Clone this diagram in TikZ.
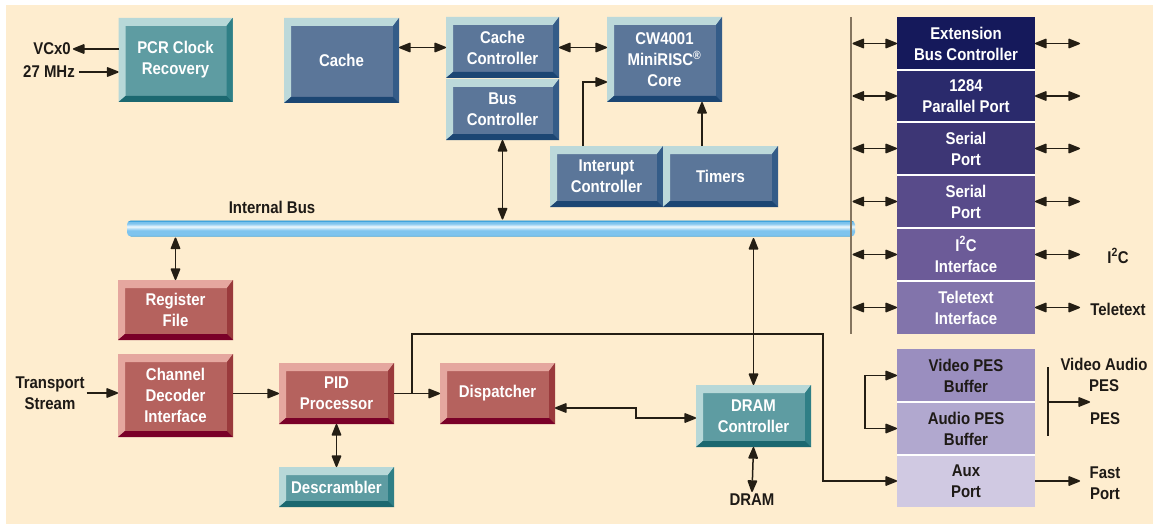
\documentclass[tikz,border=0pt]{standalone}
\usepackage{fontspec}
\newfontfamily\condfont{Liberation Sans}[FakeStretch=0.88]
\usetikzlibrary{arrows.meta,calc}

\definecolor{paper}{HTML}{FEEDCF}
\definecolor{lineC}{HTML}{241E14}
\definecolor{vbusC}{HTML}{85755F}
\definecolor{labelC}{HTML}{1E1A16}
% teal blocks
\definecolor{tealF}{HTML}{5E9CA2}
\definecolor{tealL}{HTML}{B7D8D8}
\definecolor{tealR}{HTML}{2F7F86}
\definecolor{tealB}{HTML}{1B6870}
% blue blocks
\definecolor{blueF}{HTML}{5B7699}
\definecolor{blueL}{HTML}{BCD9DA}
\definecolor{blueR}{HTML}{345C88}
\definecolor{blueB}{HTML}{1C4673}
% red blocks
\definecolor{redF}{HTML}{B5625E}
\definecolor{redL}{HTML}{E5A79F}
\definecolor{redR}{HTML}{9A3A3C}
\definecolor{redB}{HTML}{7A0028}
% port column
\definecolor{pExt}{HTML}{15195B}
\definecolor{pPar}{HTML}{2A2A6C}
\definecolor{pSerA}{HTML}{3D3675}
\definecolor{pSerB}{HTML}{584B8A}
\definecolor{pIIC}{HTML}{6C5B98}
\definecolor{pTele}{HTML}{8274AB}
\definecolor{pVid}{HTML}{9A8EBF}
\definecolor{pAud}{HTML}{B1A8CF}
\definecolor{pAux}{HTML}{D0C9E2}
% bus pipe
\definecolor{pipeEdge}{HTML}{2496D6}
\definecolor{pipeLo}{HTML}{7FC4EE}
\definecolor{pipeHi}{HTML}{EEF8FD}

% tube shading: blue rims, light body, bright highlight stripe
\pgfdeclareverticalshading{tubeshade}{100bp}{%
  color(0bp)=(pipeEdge); color(25bp)=(pipeEdge); color(30bp)=(pipeLo);
  color(44bp)=(pipeLo); color(56bp)=(pipeHi); color(66bp)=(pipeLo);
  color(70bp)=(pipeLo); color(75bp)=(pipeEdge); color(100bp)=(pipeEdge)}

\newcommand\boxtxt{\condfont\bfseries\fontsize{17}{21}\selectfont}

% raised-block bevel: light top/left, dark right, darkest bottom
\newcommand\bevelfill[3]{%
  \path (path picture bounding box.south west) coordinate (bvsw)
        (path picture bounding box.north west) coordinate (bvnw)
        (path picture bounding box.north east) coordinate (bvne)
        (path picture bounding box.south east) coordinate (bvse);
  \fill[#1] (bvsw) -- (bvnw) -- (bvne) -- ([xshift=-6pt,yshift=-8pt]bvne)
     -- ([xshift=7pt,yshift=-8pt]bvnw) -- ([xshift=7pt,yshift=6pt]bvsw) -- cycle;
  \fill[#2] (bvne) -- (bvse) -- ([xshift=-6pt,yshift=6pt]bvse)
     -- ([xshift=-6pt,yshift=-8pt]bvne) -- cycle;
  \fill[#3] (bvsw) -- (bvse) -- ([xshift=-6pt,yshift=6pt]bvse)
     -- ([xshift=7pt,yshift=6pt]bvsw) -- cycle;
}

\tikzset{
  bevel/.style n args={4}{fill=#1, path picture={\bevelfill{#2}{#3}{#4}},
    text=white, font=\boxtxt, align=center, inner sep=0pt, outer sep=0pt},
  tealbox/.style={bevel={tealF}{tealL}{tealR}{tealB}},
  bluebox/.style={bevel={blueF}{blueL}{blueR}{blueB}},
  redbox/.style={bevel={redF}{redL}{redR}{redB}},
  wh/.style 2 args={minimum width=#1, minimum height=#2},
  portbox/.style={fill=#1, text=white, font=\boxtxt, align=center,
    inner sep=0pt, outer sep=0pt, minimum width=138pt},
  bufbox/.style={portbox=#1, text=labelC},
  sepline/.style={draw=white, line width=1.6pt},
  lbl/.style={text=labelC, font=\boxtxt, align=center, inner sep=2pt},
  conn/.style={draw=lineC, line width=1.5pt},
  headtip/.tip={Triangle[length=13pt,width=10pt,round]},
  arr/.style={conn, -headtip},
  darr/.style={conn, headtip-headtip},
  vline/.style={draw=vbusC, line width=2pt},
  pipe/.style={rounded corners=4pt, shading=tubeshade,
    inner sep=0pt, outer sep=0pt},
}

\begin{document}
\begin{tikzpicture}[x=1pt, y=-1pt]
\useasboundingbox (0,0) rectangle (1153,524);
\fill[white] (0,0) rectangle (1153,524);
\fill[paper] (6,5) rectangle (1153,524);

% ---- processor blocks ----
\node[tealbox, wh={114pt}{84pt}] (pcr)   at (175.5,60)   {PCR Clock\\Recovery};
\node[bluebox, wh={115pt}{85pt}] (cache) at (341.5,60.5) {Cache};
\node[bluebox, wh={113pt}{61pt}] (cctl)  at (502.5,47.5) {Cache\\Controller};
\node[bluebox, wh={113pt}{61pt}] (busc)  at (502.5,109.5) {Bus\\Controller};
\node[bluebox, wh={115pt}{85pt}] (core)  at (664.5,59.5) {CW4001\\MiniRISC\textsuperscript{®}\\Core};
\node[bluebox, wh={113pt}{61pt}] (intc)  at (606.5,176.5) {Interupt\\Controller};
\node[bluebox, wh={115pt}{61pt}] (tim)   at (720.5,176.5) {Timers};

% ---- internal bus ----
\node[pipe, wh={728pt}{16pt}] (bus) at (491,228.5) {};
\node[lbl] (busl) at (272,207) {Internal Bus};

% ---- transport blocks ----
\node[redbox,  wh={115pt}{60pt}] (reg)   at (175.5,310)   {Register\\File};
\node[redbox,  wh={115pt}{83pt}] (cdi)   at (175.5,395.5) {Channel\\Decoder\\Interface};
\node[redbox,  wh={115pt}{61pt}] (pid)   at (336.5,393.5) {PID\\Processor};
\node[tealbox, wh={115pt}{40pt}] (desc)  at (336.5,487)   {Descrambler};
\node[redbox,  wh={115pt}{61pt}] (disp)  at (497.5,393.5) {Dispatcher};
\node[tealbox, wh={115pt}{62pt}] (dramc) at (753.5,416)   {DRAM\\Controller};

% ---- peripheral column ----
\node[portbox=pExt,  minimum height=53pt] (ext)  at (966,43.5)  {Extension\\Bus Controller};
\node[portbox=pPar,  minimum height=52pt] (par)  at (966,96)    {1284\\Parallel Port};
\node[portbox=pSerA, minimum height=53pt] (ser1) at (966,148.5) {Serial\\Port};
\node[portbox=pSerB, minimum height=53pt] (ser2) at (966,201.5) {Serial\\Port};
\node[portbox=pIIC,  minimum height=53pt] (iic)  at (966,254.5) {I\textsuperscript{2}C\\Interface};
\node[portbox=pTele, minimum height=53pt] (tele) at (966,307.5) {Teletext\\Interface};
\node[bufbox=pVid,   minimum height=53pt] (vpes) at (966,375.5) {Video PES\\Buffer};
\node[bufbox=pAud,   minimum height=53pt] (apes) at (966,428.5) {Audio PES\\Buffer};
\node[bufbox=pAux,   minimum height=52pt] (aux)  at (966,481)   {Aux\\Port};
\foreach \a in {ext,par,ser1,ser2,iic,vpes,apes}
  \draw[sepline] (\a.south west) -- (\a.south east);

% ---- outside labels ----
\node[lbl] (vcx)   at (52,49)    {VCx0};
\node[lbl] (mhz)   at (49,72)    {27 MHz};
\node[lbl] (ts)    at (50,393)   {Transport\\Stream};
\node[lbl] (dram)  at (752,500)  {DRAM};
\node[lbl] (iicl)  at (1118,256) {I\textsuperscript{2}C};
\node[lbl] (telel) at (1118,309) {Teletext};
\node[lbl] (pesa)  at (1104,375) {Video Audio\\PES};
\node[lbl] (pesb)  at (1105,419) {PES};
\node[lbl] (fast)  at (1105,483) {Fast\\Port};

% ---- helper coordinates ----
\coordinate (vt) at (851,17);
\coordinate (vb) at (851,334);
\coordinate (re) at (1080,0);
\coordinate (ix) at (583,0);
\coordinate (tx) at (702,0);
\coordinate (j1) at (636,408);
\coordinate (j2) at (636,418);
\coordinate (t1) at (412,393.5);
\coordinate (t3) at (823,334);
\coordinate (lb1) at (865,375.5);
\coordinate (lb2) at (865,428.5);
\coordinate (rb1) at (1048,367);
\coordinate (rb2) at (1048,436);
\coordinate (rbm) at (1048,402);
\coordinate (rbe) at (1090,402);

% ---- connectors: clock and processor ----
\draw[arr]  (pcr.west |- vcx) -- (vcx.east);
\draw[arr]  ([xshift=2pt]mhz.east) -- (pcr.west |- mhz);
\draw[darr] (cache.east |- cctl.west) -- (cctl.west);
\draw[darr] (cctl.east) -- (core.west |- cctl.east);
\draw[arr]  (intc.north -| ix) |- ([yshift=-22.5pt]core.west);
\draw[arr]  (tim.north -| tx) -- (core.south -| tx);
\draw[darr] (busc.south) -- ([yshift=1pt]busc.south |- bus.north);

% ---- connectors: transport path ----
\draw[darr] ([yshift=-1pt]reg.north |- bus.south) -- (reg.north);
\draw[arr]  (ts.east) -- (cdi.west |- ts.east);
\draw[arr]  (cdi.east |- pid.west) -- (pid.west);
\draw[darr] (pid.south) -- (desc.north);
\draw[arr]  (pid.east) -- (disp.west);
\draw[arr]  (t1) |- (t3) |- (aux.west);
\draw[darr] (disp.east |- j1) -- (j1) -- (j2) -- (dramc.west |- j2);
\draw[darr] ([yshift=-1.5pt]bus.south -| dramc.north) -- (dramc.north);
\draw[darr] (dramc.south) -- (dram.north);

% ---- connectors: peripheral column ----
\draw[vline] (vt) -- (vb);
\foreach \a in {ext,par,ser1,ser2,iic,tele} {
  \draw[darr] ([xshift=1.5pt]\a.west -| vt) -- (\a.west);
  \draw[darr] (\a.east) -- (\a.east -| re);
}
\draw[arr]  (lb2) -- (lb1) -- (vpes.west |- lb1);
\draw[arr]  (lb1) -- (lb2) -- (apes.west |- lb2);
\draw[conn] (rb1) -- (rb2);
\draw[arr]  (rbm) -- (rbe);
\draw[arr]  (aux.east) -- (aux.east -| re);
\end{tikzpicture}
\end{document}
